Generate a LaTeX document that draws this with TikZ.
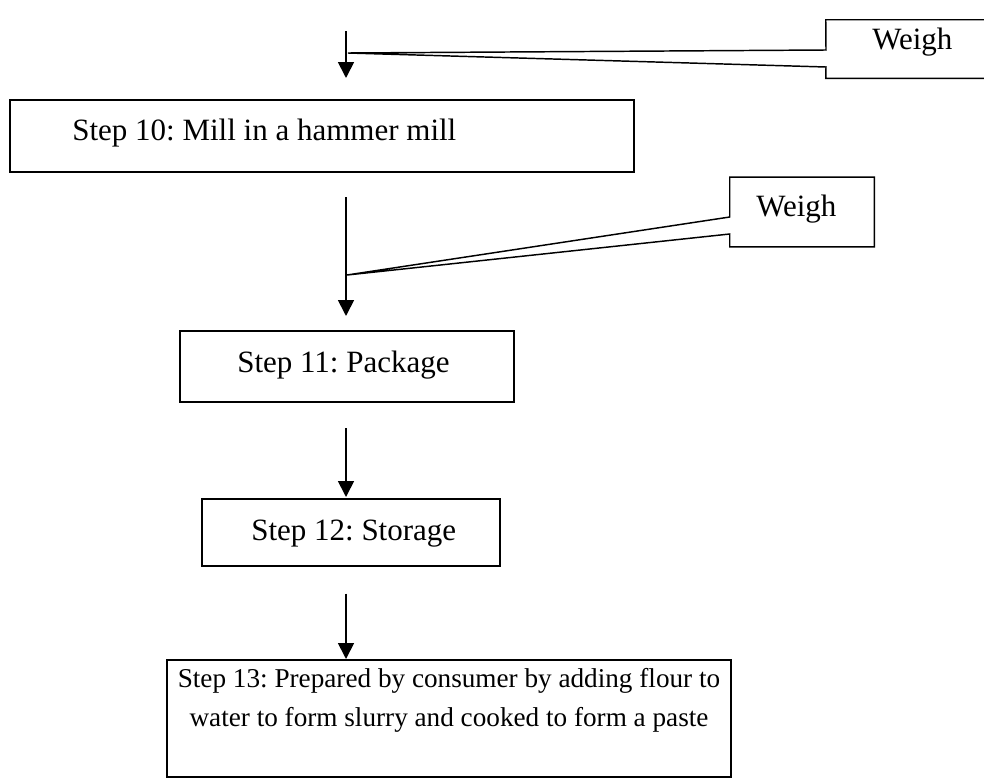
\documentclass[tikz,border=0pt]{standalone}
\usepackage{fontspec}
\setmainfont{Liberation Serif}
\usetikzlibrary{arrows.meta}
\frenchspacing
\begin{document}
\begin{tikzpicture}[x=0.75pt,y=-0.75pt,
  stepbox/.style={draw,line width=1.5pt,inner sep=0pt},
  lbl/.style={inner sep=0pt,anchor=base west,font=\fontsize{23.25}{28}\selectfont},
  clbl/.style={inner sep=0pt,anchor=base,font=\fontsize{20.4}{25}\selectfont},
  flow/.style={line width=1.3pt,-{Triangle[length=12pt,width=12pt]}},
  callout/.style={draw,line width=1.1pt,line join=miter}]
\useasboundingbox (0,0) rectangle (984,778);

% process boxes
\node[stepbox,minimum width=468pt,minimum height=54pt] (s10) at (322,136) {};
\node[stepbox,minimum width=251pt,minimum height=53.25pt] (s11) at (347,366.5) {};
\node[stepbox,minimum width=223.5pt,minimum height=50.25pt] (s12) at (351,532.5) {};
\node[stepbox,minimum width=423pt,minimum height=87.75pt] (s13) at (449,718.5) {};

% box texts
\node[lbl] (t10) at (72,140) {Step 10: Mill in a hammer mill};
\node[lbl] (t11) at (237,372) {Step 11: Package};
\node[lbl] (t12) at (251,540) {Step 12: Storage};
\node[clbl] (t13a) at (449,687) {Step 13: Prepared by consumer by adding flour to};
\node[clbl] (t13b) at (449,726) {water to form slurry and cooked to form a paste};

% weighing callouts
\node[minimum width=123pt,minimum height=43.5pt,inner sep=0pt] (w1) at (908,49) {};
\node[minimum width=108pt,minimum height=52pt,inner sep=0pt] (w2) at (802,212) {};
\node[lbl] (tw1) at (872,49) {Weigh};
\node[lbl] (tw2) at (756,216) {Weigh};

\coordinate (ax) at (346,0);
\coordinate (in0) at (346,31);
\coordinate (in1) at (346,78);
\coordinate (tip1) at (348,53);
\coordinate (tip2) at (347,275);

\draw[callout] (w1.north west) -- (w1.north east) -- (w1.south east) -- (w1.south west)
  -- (826,67) -- (tip1) -- (826,50) -- cycle;
\draw[callout] (w2.north west) -- (w2.north east) -- (w2.south east) -- (w2.south west)
  -- (w2.west |- 0,234) -- (tip2) -- (w2.west |- 0,217) -- cycle;

% flow arrows
\draw[flow] (in0) -- (in1);
\draw[flow,shorten <=18pt,shorten >=10.5pt] (s10.south -| ax) -- (s11.north -| ax);
\draw[flow,shorten <=18.75pt,shorten >=0.75pt] (s11.south -| ax) -- (s12.north -| ax);
\draw[flow,shorten <=20pt] (s12.south -| ax) -- (s13.north -| ax);
\end{tikzpicture}
\end{document}
